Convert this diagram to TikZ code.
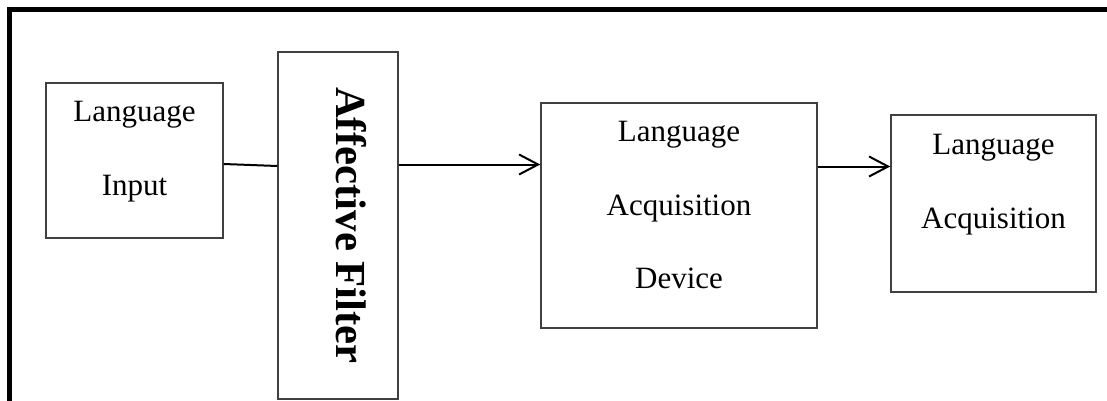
\documentclass[tikz,border=0pt]{standalone}
\usepackage{fontspec}
\setmainfont{Liberation Serif}
\usetikzlibrary{arrows.meta,positioning,calc}
\tikzset{
  % outlined box, size is set per node
  blk/.style   = {rectangle, draw=black!75, line width=0.75pt, inner sep=0pt},
  txt/.style   = {align=center, inner sep=0pt, font=\fontsize{15.5}{36.75}\selectfont},
  vtxt/.style  = {rotate=-90, inner sep=0pt, font=\fontsize{21.4}{25}\selectfont\bfseries},
  lane/.style  = {line width=1pt, black},
  arr/.style   = {-{Straight Barb[length=9.5pt,width=10pt]}, line width=1pt, black},
  frame/.style = {line width=2.5pt, black},
}

\begin{document}
\begin{tikzpicture}[x=0.5pt, y=-0.5pt]
\useasboundingbox (0,0) rectangle (1107,401);
\draw[frame] (9,401) -- (9,10) -- (1110,10);
\node[blk, minimum width=88.5pt, minimum height=77.5pt]  (input)  at (134.5,160.5) {};
\node[blk, minimum width=60pt,   minimum height=173.5pt] (filter) at (338,225.5)   {};
\node[blk, minimum width=138pt,  minimum height=112.5pt] (lad)    at (679,215.5)   {};
\node[blk, minimum width=102.5pt,minimum height=88.5pt]  (la)     at (993.5,203.5) {};
% box texts
\node[txt, below=9.5pt of input.north] (inputtxt) {Language\\Input};
\node[vtxt] (filtertxt) at ([xshift=6.5pt]filter.center) {Affective Filter};
\node[txt, below=9.5pt of lad.north] (ladtxt) {Language\\Acquisition\\Device};
\node[txt, below=10pt of la.north] (latxt) {Language\\Acquisition};
% connectors
\draw[lane] ($(input.east)+(0,3.5)$) -- ($(filter.west)+(0,-59.5)$);
\draw[arr] ($(filter.east)+(0,-61)$) -- ($(lad.west)+(0,-51)$);
\draw[arr] ($(lad.east)+(0,-49)$) -- ($(la.west)+(0,-37)$);
\end{tikzpicture}
\end{document}
